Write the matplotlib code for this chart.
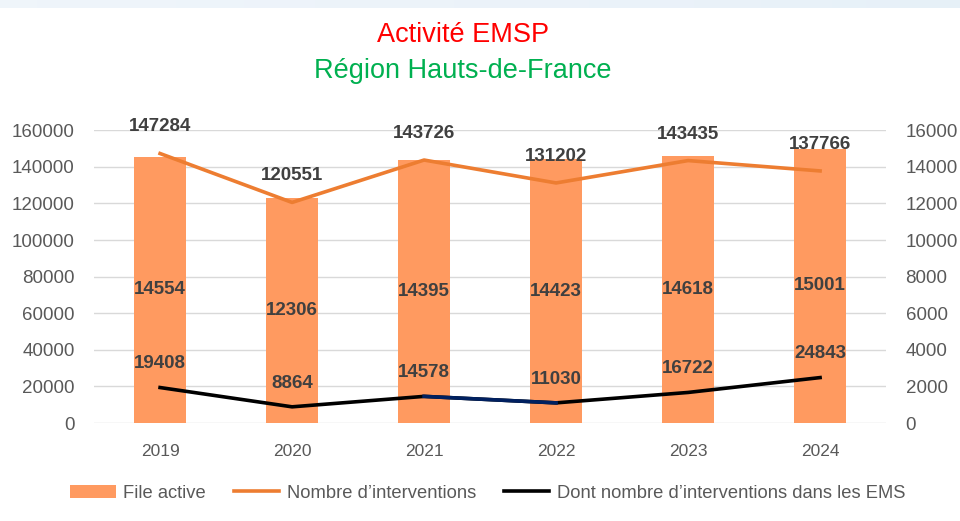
import matplotlib.pyplot as plt
import numpy as np

years = ["2019", "2020", "2021", "2022", "2023", "2024"]
file_active = [14554, 12306, 14395, 14423, 14618, 15001]
interventions = [147284, 120551, 143726, 131202, 143435, 137766]
interventions_ems = [19408, 8864, 14578, 11030, 16722, 24843]

BAR = "#FF9A60"
ORANGE = "#ED7D31"
LABEL = "#404040"
TICK = "#595959"
NARROW = ["Liberation Sans Narrow", "Liberation Sans", "DejaVu Sans"]


def main():
    plt.rcParams["font.family"] = ["Liberation Sans", "DejaVu Sans"]
    fig = plt.figure(figsize=(9.6, 5.21), dpi=100)

    # thin grey band at top of the screenshot
    band = fig.add_axes([0, 0.985, 1, 0.015])
    band.imshow(np.linspace(0.98, 0.85, 256).reshape(1, -1), cmap="Blues_r",
                aspect="auto", vmin=0, vmax=1.2, alpha=0.35)
    band.axis("off")

    ax = fig.add_axes([0.098, 0.188, 0.825, 0.562])
    ax2 = ax.twinx()
    x = np.arange(len(years))

    # bars on the secondary axis, drawn underneath the lines
    ax2.set_zorder(1)
    ax.set_zorder(2)
    ax.patch.set_visible(False)
    ax2.bar(x, file_active, width=0.39, color=BAR, label="File active")
    ax2.set_ylim(0, 16000)
    ax2.set_yticks(range(0, 16001, 2000))

    ax.plot(x, interventions, color=ORANGE, lw=2.6, label="Nombre d\u2019interventions")
    ax.plot(x, interventions_ems, color="black", lw=2.6,
            label="Dont nombre d\u2019interventions dans les EMS")
    ax.plot(x[2:4], interventions_ems[2:4], color="#002060", lw=2.6)
    ax.set_ylim(0, 160000)
    ax.set_xlim(-0.5, len(years) - 0.5)
    ax.set_yticks(range(0, 160001, 20000))
    ax.set_xticks(x)
    ax.set_xticklabels(years)

    ax2.yaxis.grid(True, color="#D9D9D9", lw=1)
    ax2.set_axisbelow(True)
    for a in (ax, ax2):
        for s in a.spines.values():
            s.set_visible(False)
        a.tick_params(length=0, labelsize=13.5, colors=TICK, pad=14)
    ax2.tick_params(pad=14)
    ax.tick_params(axis="x", labelsize=12.5, pad=15)

    # data labels
    lbl = dict(fontsize=13.5, fontweight="bold", color=LABEL, family=NARROW)
    for i in range(len(years)):
        ax.annotate(str(interventions[i]), (x[i], interventions[i]), xytext=(0, 13),
                    textcoords="offset points", ha="center", va="bottom", **lbl)
        ax2.text(x[i], file_active[i] / 2, str(file_active[i]), ha="center",
                 va="center", **lbl)
        ax.annotate(str(interventions_ems[i]), (x[i], interventions_ems[i]),
                    xytext=(0, 11), textcoords="offset points", ha="center",
                    va="bottom", **lbl)

    fig.text(0.482, 0.933, "Activit\u00e9 EMSP", ha="center", va="center",
             fontsize=19.5, color="#FF0000")
    fig.text(0.482, 0.863, "R\u00e9gion Hauts-de-France", ha="center",
             va="center", fontsize=19.5, color="#00B050")

    h1, l1 = ax2.get_legend_handles_labels()
    h2, l2 = ax.get_legend_handles_labels()
    fig.legend(h1 + h2, l1 + l2, loc="center", bbox_to_anchor=(0.508, 0.053),
               ncol=3, frameon=False, handlelength=2.5, handletextpad=0.4,
               columnspacing=1.5, prop={"family": NARROW, "size": 13.2},
               labelcolor=TICK)

    fig.savefig("out.png", dpi=100)


if __name__ == "__main__":
    main()
